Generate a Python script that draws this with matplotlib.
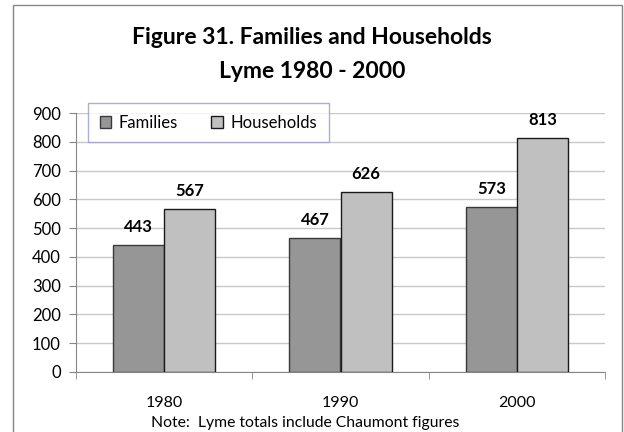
import numpy as np
import matplotlib
matplotlib.use("Agg")
import matplotlib.pyplot as plt
from matplotlib.patches import Rectangle
from matplotlib.ticker import FixedLocator

years = ["1980", "1990", "2000"]
families = [443, 467, 573]
households = [567, 626, 813]
series_names = ["Families", "Households"]

plt.rcParams['font.family'] = ['Lato', 'DejaVu Sans']

fig = plt.figure(figsize=(6.24, 4.32), dpi=100)
ax = fig.add_axes([76 / 624, 1 - 372 / 432, 529 / 624, 259 / 432])

x = np.arange(len(years))
w = 0.29
b1 = ax.bar(x - w / 2, families, w, color='#969696', edgecolor='#3a3a3a',
            linewidth=1, label=series_names[0], zorder=3)
b2 = ax.bar(x + w / 2, households, w, color='#c0c0c0', edgecolor='#1a1a1a',
            linewidth=1, label=series_names[1], zorder=3)

for bars, vals in ((b1, families), (b2, households)):
    for r, v in zip(bars, vals):
        ax.annotate(str(v), (r.get_x() + r.get_width() / 2, v),
                    xytext=(0, 7), textcoords='offset points',
                    ha='center', va='bottom', fontsize=12, fontweight='bold')

ax.set_xlim(-0.5, len(years) - 0.5)
ax.set_ylim(0, 900)
ax.set_yticks(range(0, 901, 100))
ax.set_xticks(x)
ax.set_xticklabels(years)
ax.xaxis.set_minor_locator(FixedLocator(np.arange(-0.5, len(years), 1.0)))
ax.tick_params(axis='x', which='major', length=0, pad=17, labelsize=11.5)
ax.tick_params(axis='x', which='minor', length=5, color='#868686', direction='out')
ax.tick_params(axis='y', length=5, color='#868686', pad=6, labelsize=12)

ax.grid(axis='y', color='#c8c8c8', linewidth=1, zorder=0)
ax.set_axisbelow(True)
for s in ('top', 'right'):
    ax.spines[s].set_visible(False)
for s in ('left', 'bottom'):
    ax.spines[s].set_color('#868686')

leg = ax.legend(loc='upper left', bbox_to_anchor=(88 / 624, 1 - 103 / 432),
                bbox_transform=fig.transFigure, ncol=2, fontsize=12,
                frameon=True, fancybox=False, edgecolor='#9a9acb',
                handlelength=0.7, handleheight=0.7, handletextpad=0.45,
                columnspacing=2.0, borderpad=0.7, borderaxespad=0)
leg.get_frame().set_linewidth(1)
leg.set_zorder(5)

fig.text(0.5, 1 - 37 / 432, "Figure 31. Families and Households",
         ha='center', va='center', fontsize=16.5, fontweight='bold')
fig.text(0.5, 1 - 71 / 432, "Lyme 1980 - 2000",
         ha='center', va='center', fontsize=16.5, fontweight='bold')
fig.text(305 / 624, 1 - 423 / 432, "Note:  Lyme totals include Chaumont figures",
         ha='center', va='center', fontsize=11.3)

fig.patches.append(Rectangle((13 / 624, -0.1), 609 / 624, 1.1 - 5 / 432,
                             transform=fig.transFigure, fill=False,
                             edgecolor='#868686', linewidth=1))

fig.savefig("out.png", dpi=100)
